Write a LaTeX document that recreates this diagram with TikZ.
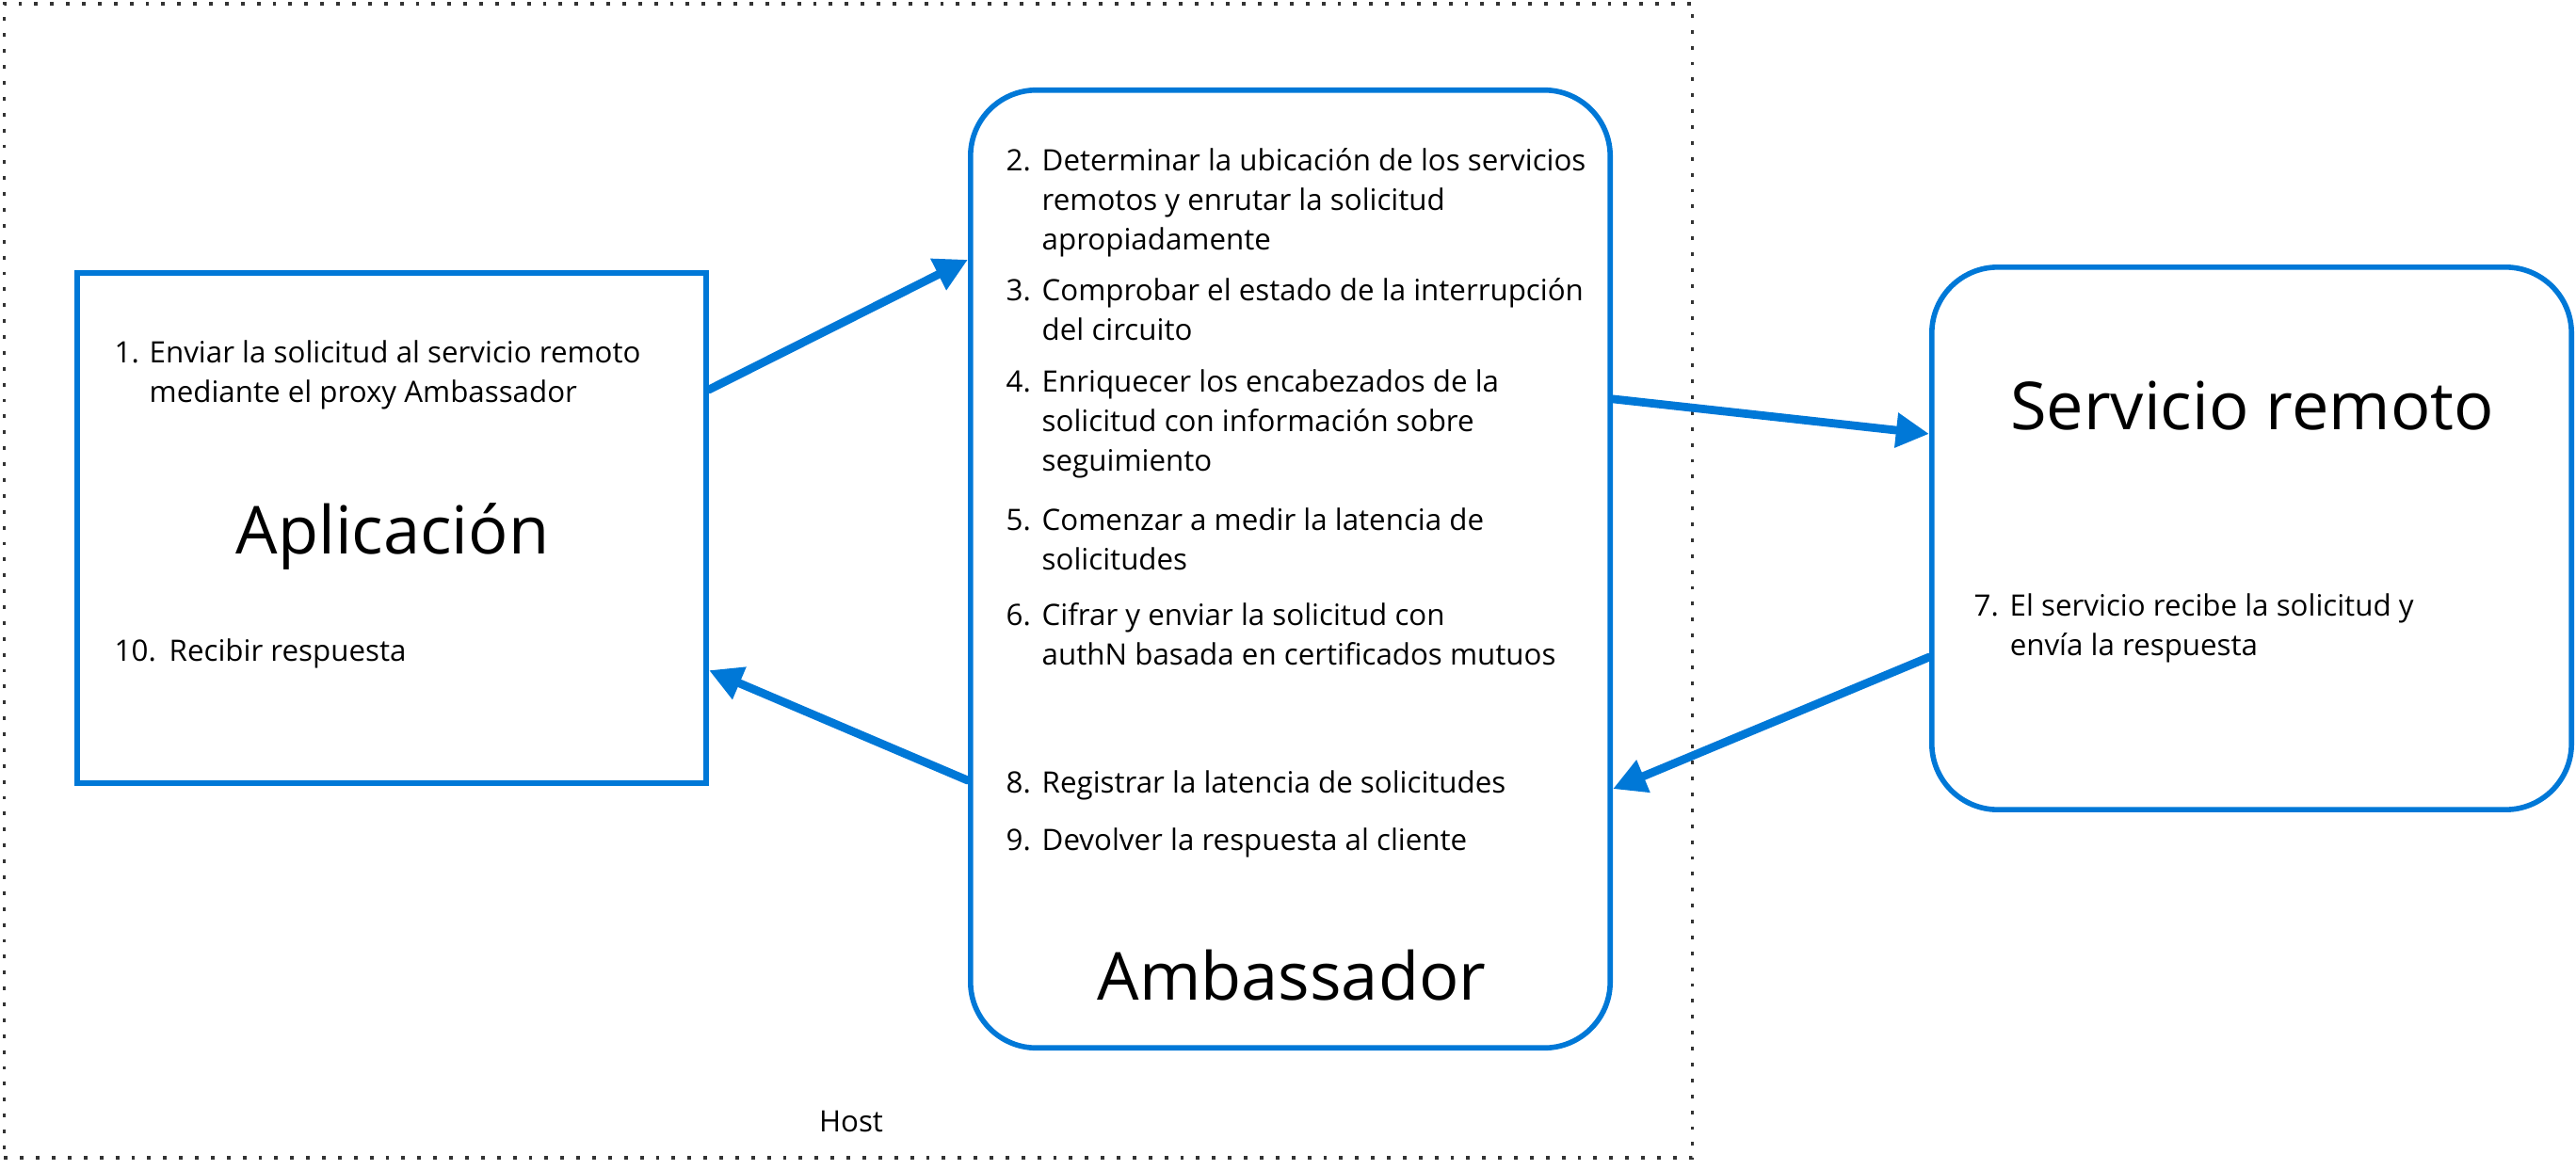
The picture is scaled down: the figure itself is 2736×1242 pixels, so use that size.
\documentclass[tikz,border=0pt]{standalone}
\usepackage{fontspec}
\setmainfont{Open Sans}
\usetikzlibrary{arrows.meta}
\definecolor{azureblue}{RGB}{0,120,215}
\definecolor{hostgray}{RGB}{51,51,51}
\newcommand{\smalltext}{\fontsize{8.9pt}{11.95pt}\selectfont}
\newcommand{\bigtext}{\fontsize{20pt}{24pt}\selectfont}
\newcommand{\numitem}[3][0.38cm]{\makebox[#1][l]{#2}\parbox[t]{7cm}{\raggedright #3}}
\begin{document}
\begin{tikzpicture}[x=0.01cm, y=-0.01cm,
    hostbox/.style={draw=hostgray, line width=1.1pt, dash pattern=on 1.1pt off 3.7pt, inner sep=0},
    appbox/.style={draw=azureblue, line width=1.6pt, inner sep=0},
    roundbox/.style={draw=azureblue, line width=1.6pt, rounded corners=0.7cm, inner sep=0},
    txt/.style={anchor=base west, inner sep=0, font=\smalltext},
    title/.style={anchor=base, inner sep=0, font=\bigtext},
    arr/.style={draw=azureblue, line width=2.5pt, line cap=round, -{Triangle[length=10pt, width=10pt]}}]
  \useasboundingbox (0,0) rectangle (2736,1242);
  \node[hostbox, minimum width=17.92cm, minimum height=12.26cm] (host) at (901,617) {};
  \node[txt, anchor=base] (thost) at (904,1202) {Host};
  % boxes
  \node[appbox, minimum width=6.68cm, minimum height=5.42cm] (app) at (416,561) {};
  \node[roundbox, minimum width=6.79cm, minimum height=10.17cm] (amb) at (1370.5,604.5) {};
  \node[roundbox, minimum width=6.79cm, minimum height=5.76cm] (srv) at (2391.5,572) {};
  \node[title] (tapp) at (417,588) {Aplicación};
  \node[title] (tamb) at (1372,1062) {Ambassador};
  \node[title] (tsrv) at (2392,456) {Servicio remoto};
  % steps
  \node[txt] (s1) at (121,385) {\numitem[0.37cm]{1.}{Enviar la solicitud al servicio remoto\\mediante el proxy Ambassador}};
  \node[txt] (s10) at (121,702) {\numitem[0.58cm]{10.}{Recibir respuesta}};
  \node[txt] (s2) at (1068,181) {\numitem{2.}{Determinar la ubicación de los servicios\\remotos y enrutar la solicitud\\apropiadamente}};
  \node[txt] (s3) at (1068,319) {\numitem{3.}{Comprobar el estado de la interrupción\\del circuito}};
  \node[txt] (s4) at (1068,416) {\numitem{4.}{Enriquecer los encabezados de la\\solicitud con información sobre\\seguimiento}};
  \node[txt] (s5) at (1068,563) {\numitem{5.}{Comenzar a medir la latencia de\\solicitudes}};
  \node[txt] (s6) at (1068,664) {\numitem{6.}{Cifrar y enviar la solicitud con\\authN basada en certificados mutuos}};
  \node[txt] (s8) at (1068,842) {\numitem{8.}{Registrar la latencia de solicitudes}};
  \node[txt] (s9) at (1068,903) {\numitem{9.}{Devolver la respuesta al cliente}};
  \node[txt] (s7) at (2096,654) {\numitem[0.38cm]{7.}{El servicio recibe la solicitud y\\envía la respuesta}};
  % arrows
  \draw[arr] ([yshift=1.47cm]app.east) -- ([yshift=3.285cm]amb.west);
  \draw[arr] ([yshift=1.805cm]amb.east) -- ([yshift=1.11cm]srv.west);
  \draw[arr] ([yshift=-1.26cm]srv.west) -- ([yshift=-2.335cm]amb.east);
  \draw[arr] ([yshift=-2.245cm]amb.west) -- ([yshift=-1.51cm]app.east);
\end{tikzpicture}
\end{document}
